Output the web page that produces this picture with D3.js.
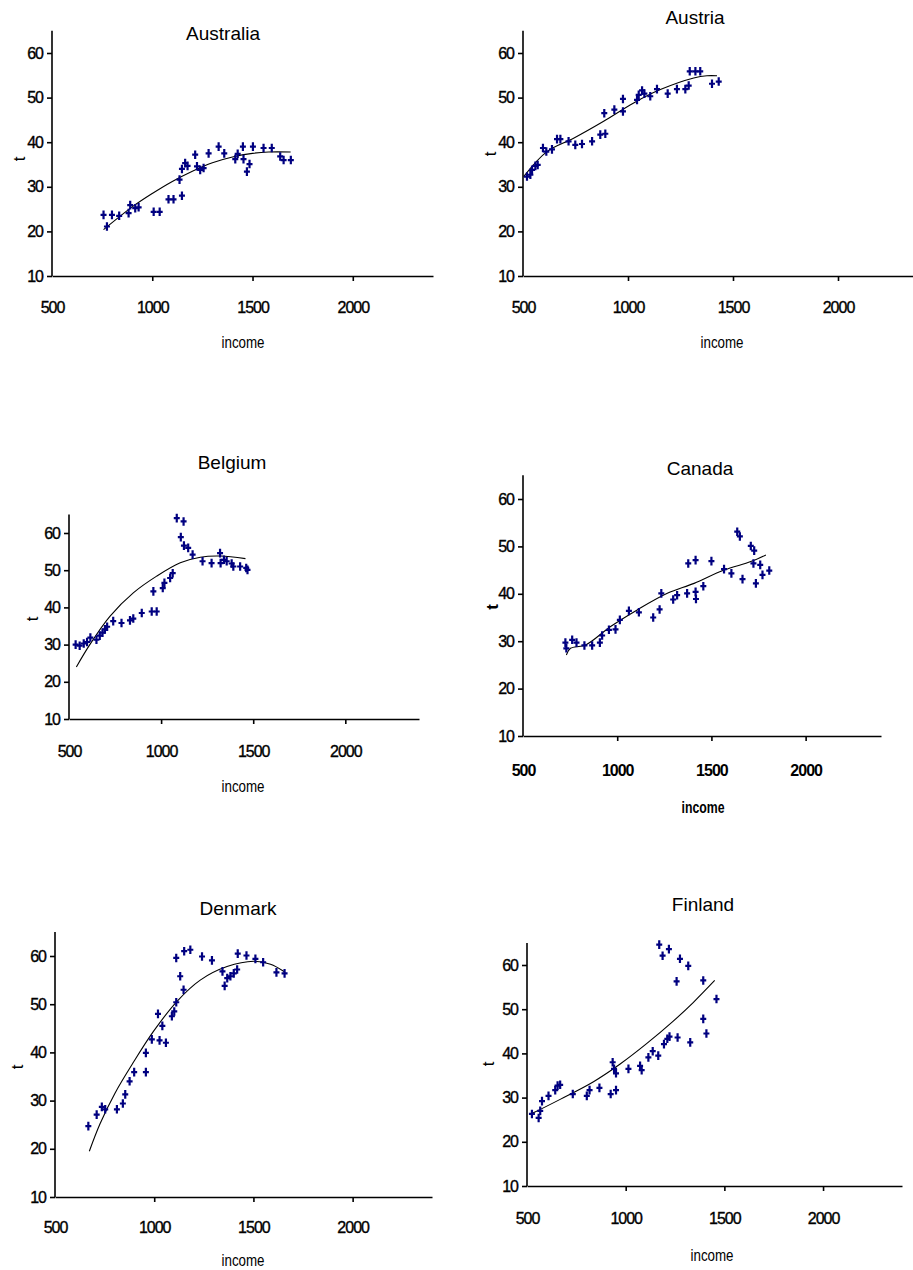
<!DOCTYPE html>
<html>
<head>
<meta charset="utf-8">
<script src="https://cdn.jsdelivr.net/npm/d3@7"></script>
<style>
  body { margin: 0; background: #fff; }
  text { font-family: "Liberation Sans", Arial, sans-serif; fill: #000; }
</style>
</head>
<body>
<svg id="chart" width="913" height="1270"></svg>
<script>
// tick values shared by every panel
const xTicks = [500, 1000, 1500, 2000];
const yTicks = [10, 20, 30, 40, 50, 60];
const countryNames = ['Australia', 'Austria', 'Belgium', 'Canada', 'Denmark', 'Finland'];

// Australia
const australiaIncome = [757, 774, 799, 835, 882, 890, 915, 932, 1007, 1037, 1081, 1106, 1148, 1136, 1148, 1164, 1176, 1214, 1223, 1239, 1256, 1281, 1331, 1359, 1414, 1426, 1452, 1455, 1472, 1485, 1502, 1555, 1596, 1638, 1655, 1691];
const australiaT = [23.7, 21.1, 23.7, 23.5, 24.1, 25.9, 25.2, 25.4, 24.4, 24.4, 27.2, 27.2, 28.0, 31.6, 34.0, 35.3, 34.7, 37.2, 34.6, 33.8, 34.2, 37.5, 39.0, 37.5, 36.2, 37.4, 39.0, 36.2, 33.4, 35.1, 39.0, 38.7, 38.7, 36.8, 36.0, 36.0];
const australiaTrendX = [757, 900, 1000, 1100, 1200, 1300, 1400, 1500, 1580, 1690];
const australiaTrendY = [20.4, 25.5, 28.5, 31.2, 33.5, 35.4, 36.7, 37.5, 37.8, 37.8];

// Austria
const austriaIncome = [519, 535, 543, 559, 570, 595, 611, 638, 662, 678, 717, 749, 781, 829, 868, 892, 887, 935, 976, 976, 1043, 1051, 1067, 1078, 1106, 1138, 1189, 1233, 1273, 1289, 1294, 1321, 1344, 1400, 1432];
const austriaT = [32.3, 32.7, 33.8, 34.7, 34.9, 38.7, 37.9, 38.4, 40.7, 40.7, 40.2, 39.4, 39.6, 40.2, 41.7, 41.9, 46.5, 47.3, 46.9, 49.7, 49.5, 50.6, 51.6, 50.9, 50.3, 51.9, 50.9, 51.9, 51.9, 52.7, 55.9, 55.9, 55.9, 53.1, 53.6];
const austriaTrendX = [503, 614, 741, 884, 1027, 1154, 1313, 1376, 1424];
const austriaTrendY = [32.3, 37.9, 40.9, 44.7, 48.8, 51.8, 54.4, 54.9, 54.9];

// Belgium
const belgiumIncome = [536, 558, 580, 598, 616, 649, 667, 682, 695, 707, 740, 785, 831, 849, 895, 949, 976, 958, 1009, 1018, 1049, 1063, 1085, 1122, 1107, 1124, 1147, 1171, 1225, 1274, 1320, 1323, 1341, 1356, 1383, 1392, 1429, 1462, 1469];
const belgiumT = [30.0, 29.7, 30.3, 30.7, 31.9, 31.3, 32.4, 33.2, 34.1, 34.8, 36.3, 35.8, 36.5, 37.0, 38.5, 38.9, 38.9, 44.3, 45.2, 46.6, 47.9, 49.2, 64.0, 63.1, 58.9, 56.6, 56.0, 54.2, 52.4, 51.9, 54.6, 51.9, 52.8, 52.4, 51.8, 51.0, 51.0, 50.6, 50.1];
const belgiumTrendX = [540, 613, 722, 849, 976, 1104, 1213, 1322, 1458];
const belgiumTrendY = [24.0, 30.0, 37.6, 43.9, 48.4, 52.0, 53.5, 53.8, 53.1];

// Canada
const canadaIncome = [725, 730, 761, 784, 826, 867, 908, 920, 956, 991, 1014, 1062, 1115, 1191, 1225, 1234, 1297, 1318, 1371, 1377, 1416, 1416, 1418, 1457, 1500, 1567, 1606, 1637, 1651, 1665, 1709, 1727, 1723, 1736, 1759, 1771, 1807];
const canadaT = [29.7, 28.5, 30.3, 29.7, 29.1, 29.1, 29.7, 31.2, 32.4, 32.5, 34.5, 36.4, 36.1, 35.0, 36.7, 40.1, 38.8, 39.7, 40.1, 46.4, 47.1, 40.4, 38.9, 41.6, 46.9, 45.2, 44.3, 53.1, 52.1, 43.1, 50.1, 49.1, 46.4, 42.2, 46.1, 44.0, 44.9];
const canadaTrendX = [730, 752, 832, 965, 1106, 1266, 1408, 1567, 1709, 1789];
const canadaTrendY = [27.1, 28.5, 29.2, 33.1, 36.6, 40.1, 42.2, 45.0, 46.8, 48.2];

// Denmark
const denmarkIncome = [668, 710, 736, 753, 812, 842, 854, 876, 899, 958, 958, 988, 1027, 1059, 1019, 1041, 1089, 1101, 1111, 1111, 1131, 1148, 1151, 1182, 1241, 1291, 1344, 1355, 1368, 1384, 1401, 1418, 1421, 1465, 1510, 1549, 1616, 1657];
const denmarkT = [24.7, 27.1, 28.7, 28.2, 28.2, 29.4, 31.3, 34.0, 35.9, 35.9, 39.9, 42.7, 42.5, 42.0, 48.0, 45.5, 47.5, 48.5, 50.4, 59.6, 55.8, 53.0, 61.0, 61.3, 59.9, 59.1, 56.8, 53.8, 55.4, 55.8, 56.4, 57.2, 60.5, 60.1, 59.4, 58.7, 56.6, 56.4];
const denmarkTrendX = [673, 727, 803, 896, 997, 1115, 1232, 1367, 1502, 1586, 1654];
const denmarkTrendY = [19.5, 25.2, 31.6, 38.0, 44.4, 50.6, 55.0, 57.8, 58.9, 58.3, 56.8];

// Finland
const finlandIncome = [525, 559, 567, 576, 609, 643, 655, 668, 732, 803, 817, 867, 924, 951, 934, 941, 951, 1014, 1073, 1081, 1115, 1137, 1165, 1194, 1211, 1222, 1263, 1327, 1170, 1187, 1219, 1275, 1317, 1258, 1393, 1393, 1409, 1460];
const finlandT = [26.3, 25.4, 27.0, 29.2, 30.4, 31.7, 32.7, 32.9, 30.8, 30.4, 31.7, 32.2, 30.8, 31.7, 38.0, 36.5, 35.5, 36.5, 37.2, 36.2, 39.1, 40.5, 39.5, 42.1, 43.3, 43.8, 43.6, 42.5, 64.6, 62.1, 63.6, 61.4, 59.8, 56.3, 56.5, 47.8, 44.5, 52.3];
const finlandTrendX = [530, 668, 837, 972, 1106, 1241, 1342, 1451];
const finlandTrendY = [26.5, 29.6, 33.6, 37.6, 42.2, 47.3, 51.5, 56.5];

const seriesByCountry = {
  Australia: [australiaIncome, australiaT, australiaTrendX, australiaTrendY],
  Austria: [austriaIncome, austriaT, austriaTrendX, austriaTrendY],
  Belgium: [belgiumIncome, belgiumT, belgiumTrendX, belgiumTrendY],
  Canada: [canadaIncome, canadaT, canadaTrendX, canadaTrendY],
  Denmark: [denmarkIncome, denmarkT, denmarkTrendX, denmarkTrendY],
  Finland: [finlandIncome, finlandT, finlandTrendX, finlandTrendY]
};

// where each little chart sits on the page (pixel layout, not data)
const layout = {
  Australia: {x0: 52,  x1: 433, yb: 276,  y60: 53,  title: [223, 33],  tLab: [19, 159],  inc: [243, 342],  tickDy: 31, bold: false},
  Austria:   {x0: 523, x1: 922, yb: 276,  y60: 53,  title: [695, 17],  tLab: [490, 154], inc: [722, 342],  tickDy: 31, bold: false},
  Belgium:   {x0: 69,  x1: 419, yb: 719,  y60: 533, title: [232, 462], tLab: [32, 619],  inc: [243, 786],  tickDy: 32, bold: false},
  Canada:    {x0: 523, x1: 881, yb: 736,  y60: 499, title: [700, 468], tLab: [492, 607], inc: [703, 807],  tickDy: 34, bold: true},
  Denmark:   {x0: 55,  x1: 432, yb: 1197, y60: 956, title: [238, 908], tLab: [17, 1067], inc: [243, 1260], tickDy: 30, bold: false},
  Finland:   {x0: 527, x1: 902, yb: 1186, y60: 965, title: [703, 904], tLab: [488, 1064],inc: [712, 1255], tickDy: 32, bold: false}
};

const svg = d3.select('#chart');
// small four-armed "+" marker like the old spreadsheet plots
const markerPath = 'M-1.1,-4.3h2.2v3.2h1.9v2.2h-1.9v3.2h-2.2v-3.2h-1.9v-2.2h1.9z';

countryNames.forEach(function(name) {
  const L = layout[name];
  const [income, tVals, trendX, trendY] = seriesByCountry[name];

  const x = d3.scaleLinear().domain([500, 2400]).range([L.x0, L.x1]);
  const y = d3.scaleLinear().domain([10, 60]).range([L.yb, L.y60]);

  const g = svg.append('g').attr('class', 'panel');

  // title
  g.append('text')
    .attr('x', L.title[0]).attr('y', L.title[1])
    .attr('text-anchor', 'middle').attr('dominant-baseline', 'central')
    .style('font-size', '19px')
    .text(name);

  // x axis
  const xAxis = d3.axisBottom(x).tickValues(xTicks).tickSize(5).tickSizeOuter(0).tickFormat(d3.format('d'));
  const gx = g.append('g').attr('transform', 'translate(0,' + L.yb + ')').call(xAxis);
  gx.select('.domain').attr('stroke', '#000').attr('stroke-width', 1.6);
  gx.selectAll('.tick line').attr('stroke', '#000').attr('stroke-width', 1.6);
  gx.selectAll('.tick').filter(d => d === 500).select('line').remove();
  gx.selectAll('.tick text')
    .attr('y', L.tickDy).attr('dy', '0.35em')
    .style('font-size', '16px').style('letter-spacing', '-1px')
    .style('font-weight', L.bold ? 'bold' : 'normal')
    .style('stroke', '#000').style('stroke-width', L.bold ? 0 : 0.35)
    .style('font-family', '"Liberation Sans", Arial, sans-serif');

  // y axis
  const yAxis = d3.axisLeft(y).tickValues(yTicks).tickSize(5).tickSizeOuter(0).tickPadding(4);
  const gy = g.append('g').attr('transform', 'translate(' + L.x0 + ',0)').call(yAxis);
  gy.select('.domain').attr('d', 'M0,' + L.yb + 'V' + y(65)).attr('stroke', '#000').attr('stroke-width', 1.6);
  gy.selectAll('.tick line').attr('stroke', '#000').attr('stroke-width', 1.6);
  gy.selectAll('.tick text')
    .style('font-size', '16px').style('letter-spacing', '-1px')
    .style('stroke', '#000').style('stroke-width', 0.35)
    .style('font-family', '"Liberation Sans", Arial, sans-serif');

  // axis titles
  g.append('text')
    .attr('transform', 'translate(' + L.tLab[0] + ',' + L.tLab[1] + ') rotate(-90)')
    .attr('text-anchor', 'middle').attr('dominant-baseline', 'central')
    .style('font-size', '17px').style('font-weight', L.bold ? 'bold' : 'normal')
    .text('t');
  g.append('text')
    .attr('x', L.inc[0]).attr('y', L.inc[1])
    .attr('text-anchor', 'middle').attr('dominant-baseline', 'central')
    .attr('textLength', 43).attr('lengthAdjust', 'spacingAndGlyphs')
    .style('font-size', '16px').style('font-weight', L.bold ? 'bold' : 'normal')
    .text('income');

  // fitted trend curve
  const trendPts = trendX.map((d, i) => [d, trendY[i]]);
  g.append('path')
    .datum(trendPts)
    .attr('fill', 'none').attr('stroke', '#000').attr('stroke-width', 1.1)
    .attr('d', d3.line().x(d => x(d[0])).y(d => y(d[1])).curve(d3.curveCatmullRom.alpha(0.5)));

  // observations
  g.selectAll('.pt')
    .data(income.map((d, i) => [d, tVals[i]]))
    .enter().append('path')
      .attr('class', 'pt')
      .attr('transform', d => 'translate(' + x(d[0]) + ',' + y(d[1]) + ')')
      .attr('d', markerPath)
      .attr('fill', '#000080');
});
</script>
</body>
</html>
